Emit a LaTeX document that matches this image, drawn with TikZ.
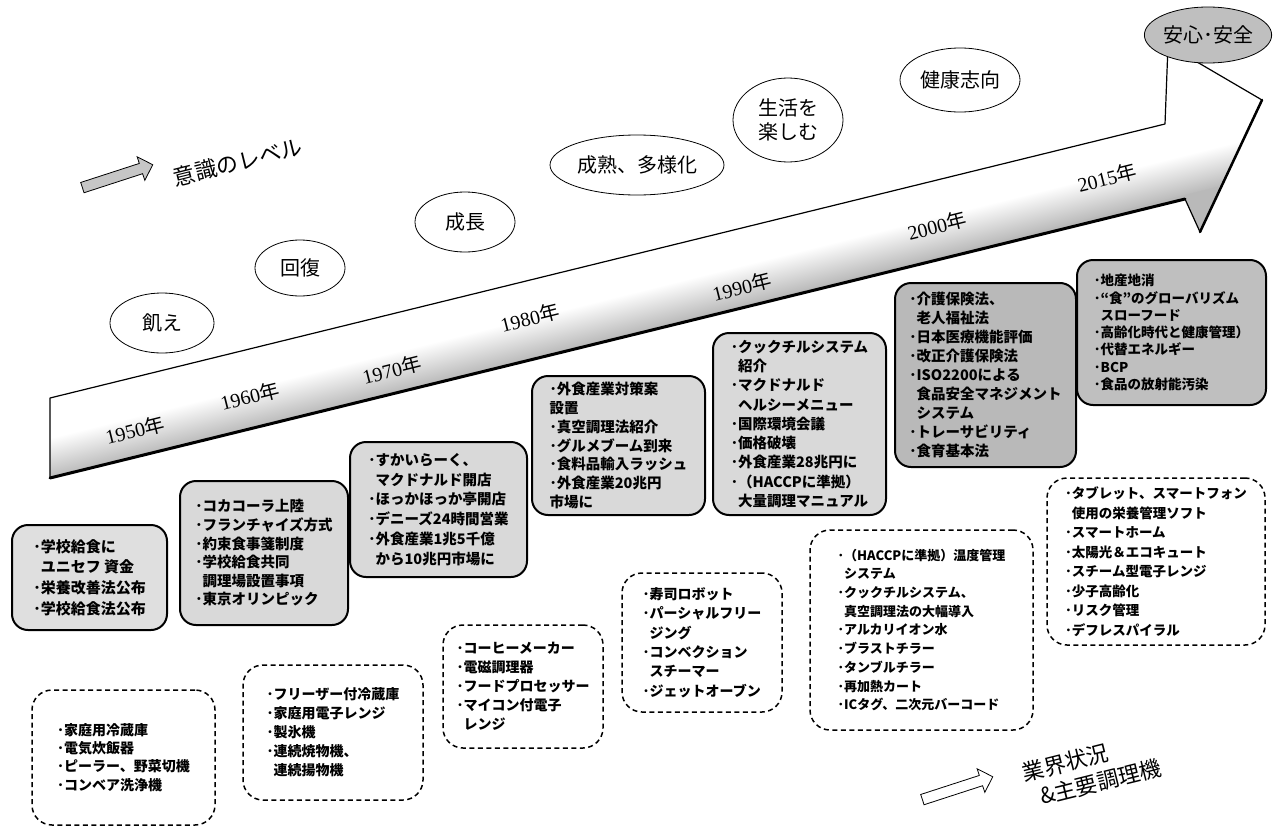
\documentclass[tikz,border=0pt]{standalone}
\usepackage{fontspec}
\setmainfont{Noto Sans CJK JP}
\newfontfamily\yr{Liberation Serif}
\usetikzlibrary{shapes.arrows,shapes.geometric}
\begin{document}
\begin{tikzpicture}[x=1pt,y=-1pt,
  solidbox/.style={draw=black, line width=2pt, rounded corners=16pt, align=left, inner sep=0pt, font=\bfseries},
  dashbox/.style={draw=black, line width=1.5pt, dash pattern=on 5pt off 3.5pt, rounded corners=20pt, fill=white, align=left, inner sep=0pt},
  era/.style={draw=black, line width=0.8pt, ellipse, fill=white, font=\fontsize{20}{24}\selectfont, align=center, inner sep=0pt},
  yearlab/.style={rotate=14, font=\fontsize{20}{24}\selectfont, inner sep=0pt},
  blockarrow/.style={single arrow, draw=black, line width=0.8pt, minimum height=74pt, minimum width=24pt, single arrow head extend=7pt, inner sep=5pt, rotate=18}
]
\useasboundingbox (0,0) rectangle (1276,827);
\fill[white] (0,0) rectangle (1276,827);

% big arrow
\begin{scope}
\clip (50,398) -- (1165,124) -- (1168,45) -- (1262,100) -- (1200,232) -- (1185,199) -- (50,478) -- cycle;
\begin{scope}[transform canvas={rotate around={14:(50,478)}}]
 \fill[white] (0,200) rectangle (1500,440);
 \shade[top color=white, bottom color=gray!55] (0,439) rectangle (1500,479);
 \fill[gray!55] (0,478) rectangle (1500,800);
\end{scope}
\end{scope}
\draw[line width=1.2pt, line join=round] (50,398) -- (1165,124) -- (1168,45) -- (1262,100) -- (1200,232) -- (1185,199) -- (50,478) -- cycle;
\draw[line width=3pt, line cap=round] (50,478) -- (1185,199);
\draw[line width=2.5pt, line cap=round] (1200,232) -- (1262,100);

% years
\node[yearlab] (y1950) at (135,430) {{\yr 1950}年};
\node[yearlab] (y1960) at (250,396) {{\yr 1960}年};
\node[yearlab] (y1970) at (392,370) {{\yr 1970}年};
\node[yearlab] (y1980) at (530,318) {{\yr 1980}年};
\node[yearlab] (y1990) at (742,287) {{\yr 1990}年};
\node[yearlab] (y2000) at (937,226) {{\yr 2000}年};
\node[yearlab] (y2015) at (1107,178) {{\yr 2015}年};

% eras
\node[era, minimum width=104pt, minimum height=60pt] (e1) at (162,323) {飢え};
\node[era, minimum width=90pt, minimum height=56pt] (e2) at (300,268) {回復};
\node[era, minimum width=100pt, minimum height=60pt] (e3) at (465,222) {成長};
\node[era, minimum width=174pt, minimum height=60pt] (e4) at (637,165) {成熟、多様化};
\node[era, minimum width=110pt, minimum height=84pt] (e5) at (788,120) {生活を\\楽しむ};
\node[era, minimum width=120pt, minimum height=64pt] (e6) at (960,80) {健康志向};
\node[era, fill=gray!50, minimum width=116pt, minimum height=56pt] (e7) at (1208,35) {安心･安全};

% level label
\node[blockarrow, fill=gray!45] (lvlarrow) at (115,177) {};
\node[rotate=14, font=\fontsize{22}{26}\selectfont, inner sep=0pt] (lvl) at (238,162) {意識のレベル};

% solid boxes
\node[solidbox, fill=gray!25, minimum width=155pt, minimum height=105pt, font=\bfseries\fontsize{15}{20.7}\selectfont] (b1) at (89.5,577.5)
 {･学校給食に\\\hspace*{0.5em}ユニセフ 資金\\･栄養改善法公布\\･学校給食法公布};
\node[solidbox, fill=gray!30, minimum width=168pt, minimum height=144pt, font=\bfseries\fontsize{14.5}{18.6}\selectfont] (b2) at (264,553)
 {･コカコーラ上陸\\･フランチャイズ方式\\･約束食事箋制度\\･学校給食共同\\\hspace*{0.5em}調理場設置事項\\･東京オリンピック};
\node[solidbox, fill=gray!30, minimum width=177pt, minimum height=135pt, font=\bfseries\fontsize{14.5}{19.7}\selectfont] (b3) at (438.5,509.5)
 {･すかいらーく、\\\hspace*{0.5em}マクドナルド開店\\･ほっかほっか亭開店\\･デニーズ24時間営業\\･外食産業1兆5千億\\\hspace*{0.5em}から10兆円市場に};
\node[solidbox, fill=gray!30, minimum width=173pt, minimum height=139pt, font=\bfseries\fontsize{14.5}{18.7}\selectfont] (b4) at (618.5,445.5)
 {･外食産業対策案\\設置\\･真空調理法紹介\\･グルメブーム到来\\･食料品輸入ラッシュ\\･外食産業20兆円\\市場に};
\node[solidbox, fill=gray!30, minimum width=173pt, minimum height=182pt, font=\bfseries\fontsize{14.5}{19.3}\selectfont] (b5) at (799.5,424)
 {･クックチルシステム\\\hspace*{0.5em}紹介\\･マクドナルド\\\hspace*{0.5em}ヘルシーメニュー\\･国際環境会議\\･価格破壊\\･外食産業28兆円に\\･（HACCPに準拠）\\\hspace*{0.5em}大量調理マニュアル};
\node[solidbox, fill=gray!55, minimum width=181pt, minimum height=184pt, font=\bfseries\fontsize{14.5}{19}\selectfont] (b6) at (985.5,375)
 {･介護保険法、\\\hspace*{0.5em}老人福祉法\\･日本医療機能評価\\･改正介護保険法\\･ISO2200による\\\hspace*{0.5em}食品安全マネジメント\\\hspace*{0.5em}システム\\･トレーサビリティ\\･食育基本法};
\node[solidbox, fill=gray!50, minimum width=189pt, minimum height=145pt, font=\bfseries\fontsize{13.5}{17.3}\selectfont] (b7) at (1171.5,332.5)
 {･地産地消\\･“食”のグローバリズム\\\hspace*{0.5em}スローフード\\･高齢化時代と健康管理）\\･代替エネルギー\\･BCP\\･食品の放射能汚染};

% dashed boxes
\node[dashbox, minimum width=183pt, minimum height=135pt, font=\bfseries\fontsize{14}{18.3}\selectfont] (dA) at (123.5,757.5)
 {･家庭用冷蔵庫\\･電気炊飯器\\･ピーラー、野菜切機\\･コンベア洗浄機};
\node[dashbox, minimum width=180pt, minimum height=135pt, font=\bfseries\fontsize{14}{19}\selectfont] (dB) at (333,732.5)
 {･フリーザー付冷蔵庫\\･家庭用電子レンジ\\･製氷機\\･連続焼物機、\\\hspace*{0.5em}連続揚物機};
\node[dashbox, minimum width=160pt, minimum height=123pt, font=\bfseries\fontsize{14}{19}\selectfont] (dC) at (523,686.5)
 {･コーヒーメーカー\\･電磁調理器\\･フードプロセッサー\\･マイコン付電子\\\hspace*{0.5em}レンジ};
\node[dashbox, minimum width=160pt, minimum height=139pt, font=\bfseries\fontsize{14}{19.3}\selectfont] (dD) at (702,642.5)
 {･寿司ロボット\\･パーシャルフリー\\\hspace*{0.5em}ジング\\･コンベクション\\\hspace*{0.5em}スチーマー\\･ジェットオーブン};
\node[dashbox, minimum width=223pt, minimum height=200pt, font=\bfseries\fontsize{13}{18.7}\selectfont] (dE) at (921.5,630)
 {･（HACCPに準拠）温度管理\\\hspace*{0.5em}システム\\･クックチルシステム、\\\hspace*{0.5em}真空調理法の大幅導入\\･アルカリイオン水\\･ブラストチラー\\･タンブルチラー\\･再加熱カート\\･ICタグ、二次元バーコード};
\node[dashbox, minimum width=218pt, minimum height=167pt, font=\bfseries\fontsize{13.5}{19.5}\selectfont] (dF) at (1156,561.5)
 {･タブレット、スマートフォン\\\hspace*{0.5em}使用の栄養管理ソフト\\･スマートホーム\\･太陽光＆エコキュート\\･スチーム型電子レンジ\\･少子高齢化\\･リスク管理\\･デフレスパイラル};

% industry label
\node[blockarrow, fill=white] (indarrow) at (955,789) {};
\node[rotate=14, font=\fontsize{22}{27}\selectfont, align=left, inner sep=0pt] (ind) at (1092,770) {業界状況\\\hspace*{0.5em}\&主要調理機};
\end{tikzpicture}
\end{document}
